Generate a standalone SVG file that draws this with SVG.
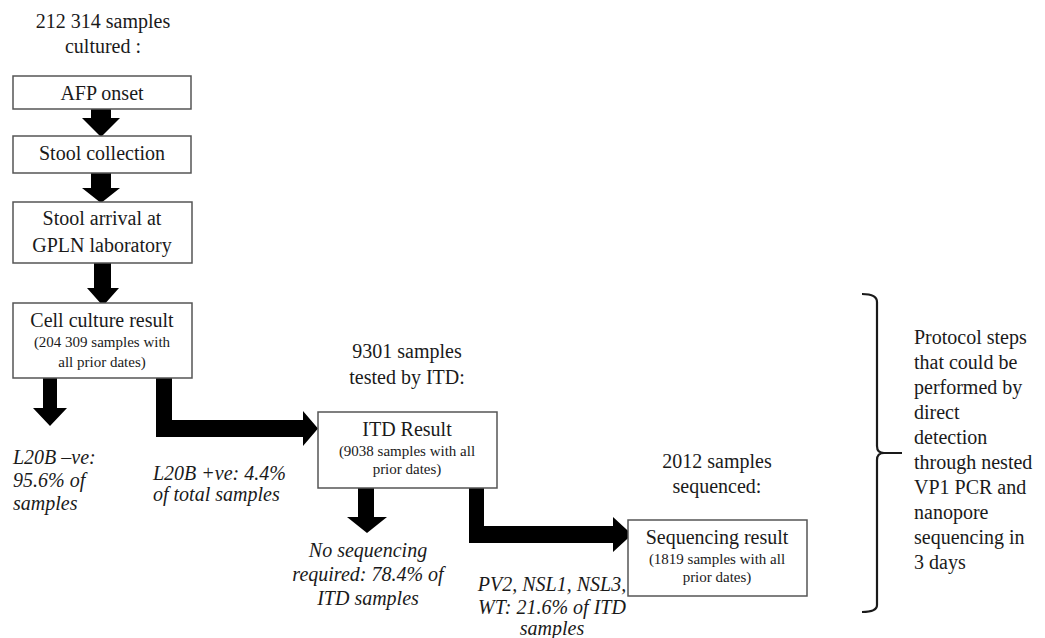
<svg xmlns="http://www.w3.org/2000/svg" width="1045" height="638" viewBox="0 0 1045 638">
<style>
text{font-family:"Liberation Serif","Times New Roman",serif;fill:#1a1a1a}
.m{font-size:20px;text-anchor:middle}
.s{font-size:15px;text-anchor:middle}
.i{font-size:20px;font-style:italic}
.ic{font-size:20px;font-style:italic;text-anchor:middle}
.b{fill:#fff;stroke:#555;stroke-width:1.5}
.a{fill:#000}
</style>
<rect width="1045" height="638" fill="#fff"/>
<g id="label-cultured"><text class="m" x="103" y="28">212 314 samples</text><text class="m" x="103" y="53">cultured :</text></g>
<g id="label-itd"><text class="m" x="407" y="358">9301 samples</text><text class="m" x="407" y="384">tested by ITD:</text></g>
<g id="label-seq"><text class="m" x="717" y="468">2012 samples</text><text class="m" x="717" y="493">sequenced:</text></g>
<g id="connectors">
<polygon class="a" points="91,109 111,109 111,118 120,118 101,137 82,118 91,118"/>
<polygon class="a" points="91,173 111,173 111,188 120,188 101,203 82,188 91,188"/>
<polygon class="a" points="94,263 111,263 111,288 119,288 103,306 87,288 94,288"/>
<polygon class="a" points="43,378 57,378 57,408 67,408 50,426 33,408 43,408"/>
<polygon class="a" points="156,378 172,378 172,420 303,420 303,411 318,428.5 303,446 303,437 156,437"/>
<polygon class="a" points="358,488 374,488 374,517 387,517 367,533 347,517 358,517"/>
<polygon class="a" points="469,488 484,488 484,526 613,526 613,517 632,534.5 613,552 613,543 469,543"/>
</g>
<g id="afp"><rect class="b" x="13" y="76" width="178" height="33"/><text class="m" x="102" y="100">AFP onset</text></g>
<g id="stool-collection"><rect class="b" x="13" y="136" width="178" height="37"/><text class="m" x="102" y="160">Stool collection</text></g>
<g id="stool-arrival"><rect class="b" x="13" y="202" width="179" height="61"/><text class="m" x="102" y="225">Stool arrival at</text><text class="m" x="102" y="252">GPLN laboratory</text></g>
<g id="cell-culture"><rect class="b" x="13" y="303" width="179" height="75"/><text class="m" x="102" y="327">Cell culture result</text><text class="s" x="102" y="347">(204 309 samples with</text><text class="s" x="102" y="367">all prior dates)</text></g>
<g id="l20b-neg"><text class="i" x="13" y="464">L20B –ve:</text><text class="i" x="13" y="487">95.6% of</text><text class="i" x="13" y="510">samples</text></g>
<g id="l20b-pos"><text class="i" x="153" y="480">L20B +ve: 4.4%</text><text class="i" x="153" y="501">of total samples</text></g>
<g id="itd-result"><rect class="b" x="318" y="412" width="179" height="76"/><text class="m" x="407" y="436">ITD Result</text><text class="s" x="407" y="456">(9038 samples with all</text><text class="s" x="407" y="474">prior dates)</text></g>
<g id="no-seq"><text class="ic" x="368" y="557">No sequencing</text><text class="ic" x="368" y="581">required: 78.4% of</text><text class="ic" x="368" y="605">ITD samples</text></g>
<g id="pv2"><text class="ic" x="552" y="591">PV2, NSL1, NSL3,</text><text class="ic" x="552" y="614">WT: 21.6% of ITD</text><text class="ic" x="552" y="635">samples</text></g>
<g id="seq-result"><rect class="b" x="628" y="520" width="179" height="76"/><text class="m" x="717" y="544">Sequencing result</text><text class="s" x="717" y="564">(1819 samples with all</text><text class="s" x="717" y="582">prior dates)</text></g>
<g id="bracket"><path d="M862,294 Q877,294 877,302 L877,446 Q877,453 884,453 L902,453 M884,453 Q877,453 877,460 L877,605 Q877,612 862,612" fill="none" stroke="#1a1a1a" stroke-width="2.2"/></g>
<g id="protocol-note">
<text class="i" style="font-style:normal" x="914" y="344">Protocol steps</text>
<text class="i" style="font-style:normal" x="914" y="369">that could be</text>
<text class="i" style="font-style:normal" x="914" y="394">performed by</text>
<text class="i" style="font-style:normal" x="914" y="419">direct</text>
<text class="i" style="font-style:normal" x="914" y="444">detection</text>
<text class="i" style="font-style:normal" x="914" y="469">through nested</text>
<text class="i" style="font-style:normal" x="914" y="494">VP1 PCR and</text>
<text class="i" style="font-style:normal" x="914" y="519">nanopore</text>
<text class="i" style="font-style:normal" x="914" y="544">sequencing in</text>
<text class="i" style="font-style:normal" x="914" y="569">3 days</text>
</g>
</svg>
